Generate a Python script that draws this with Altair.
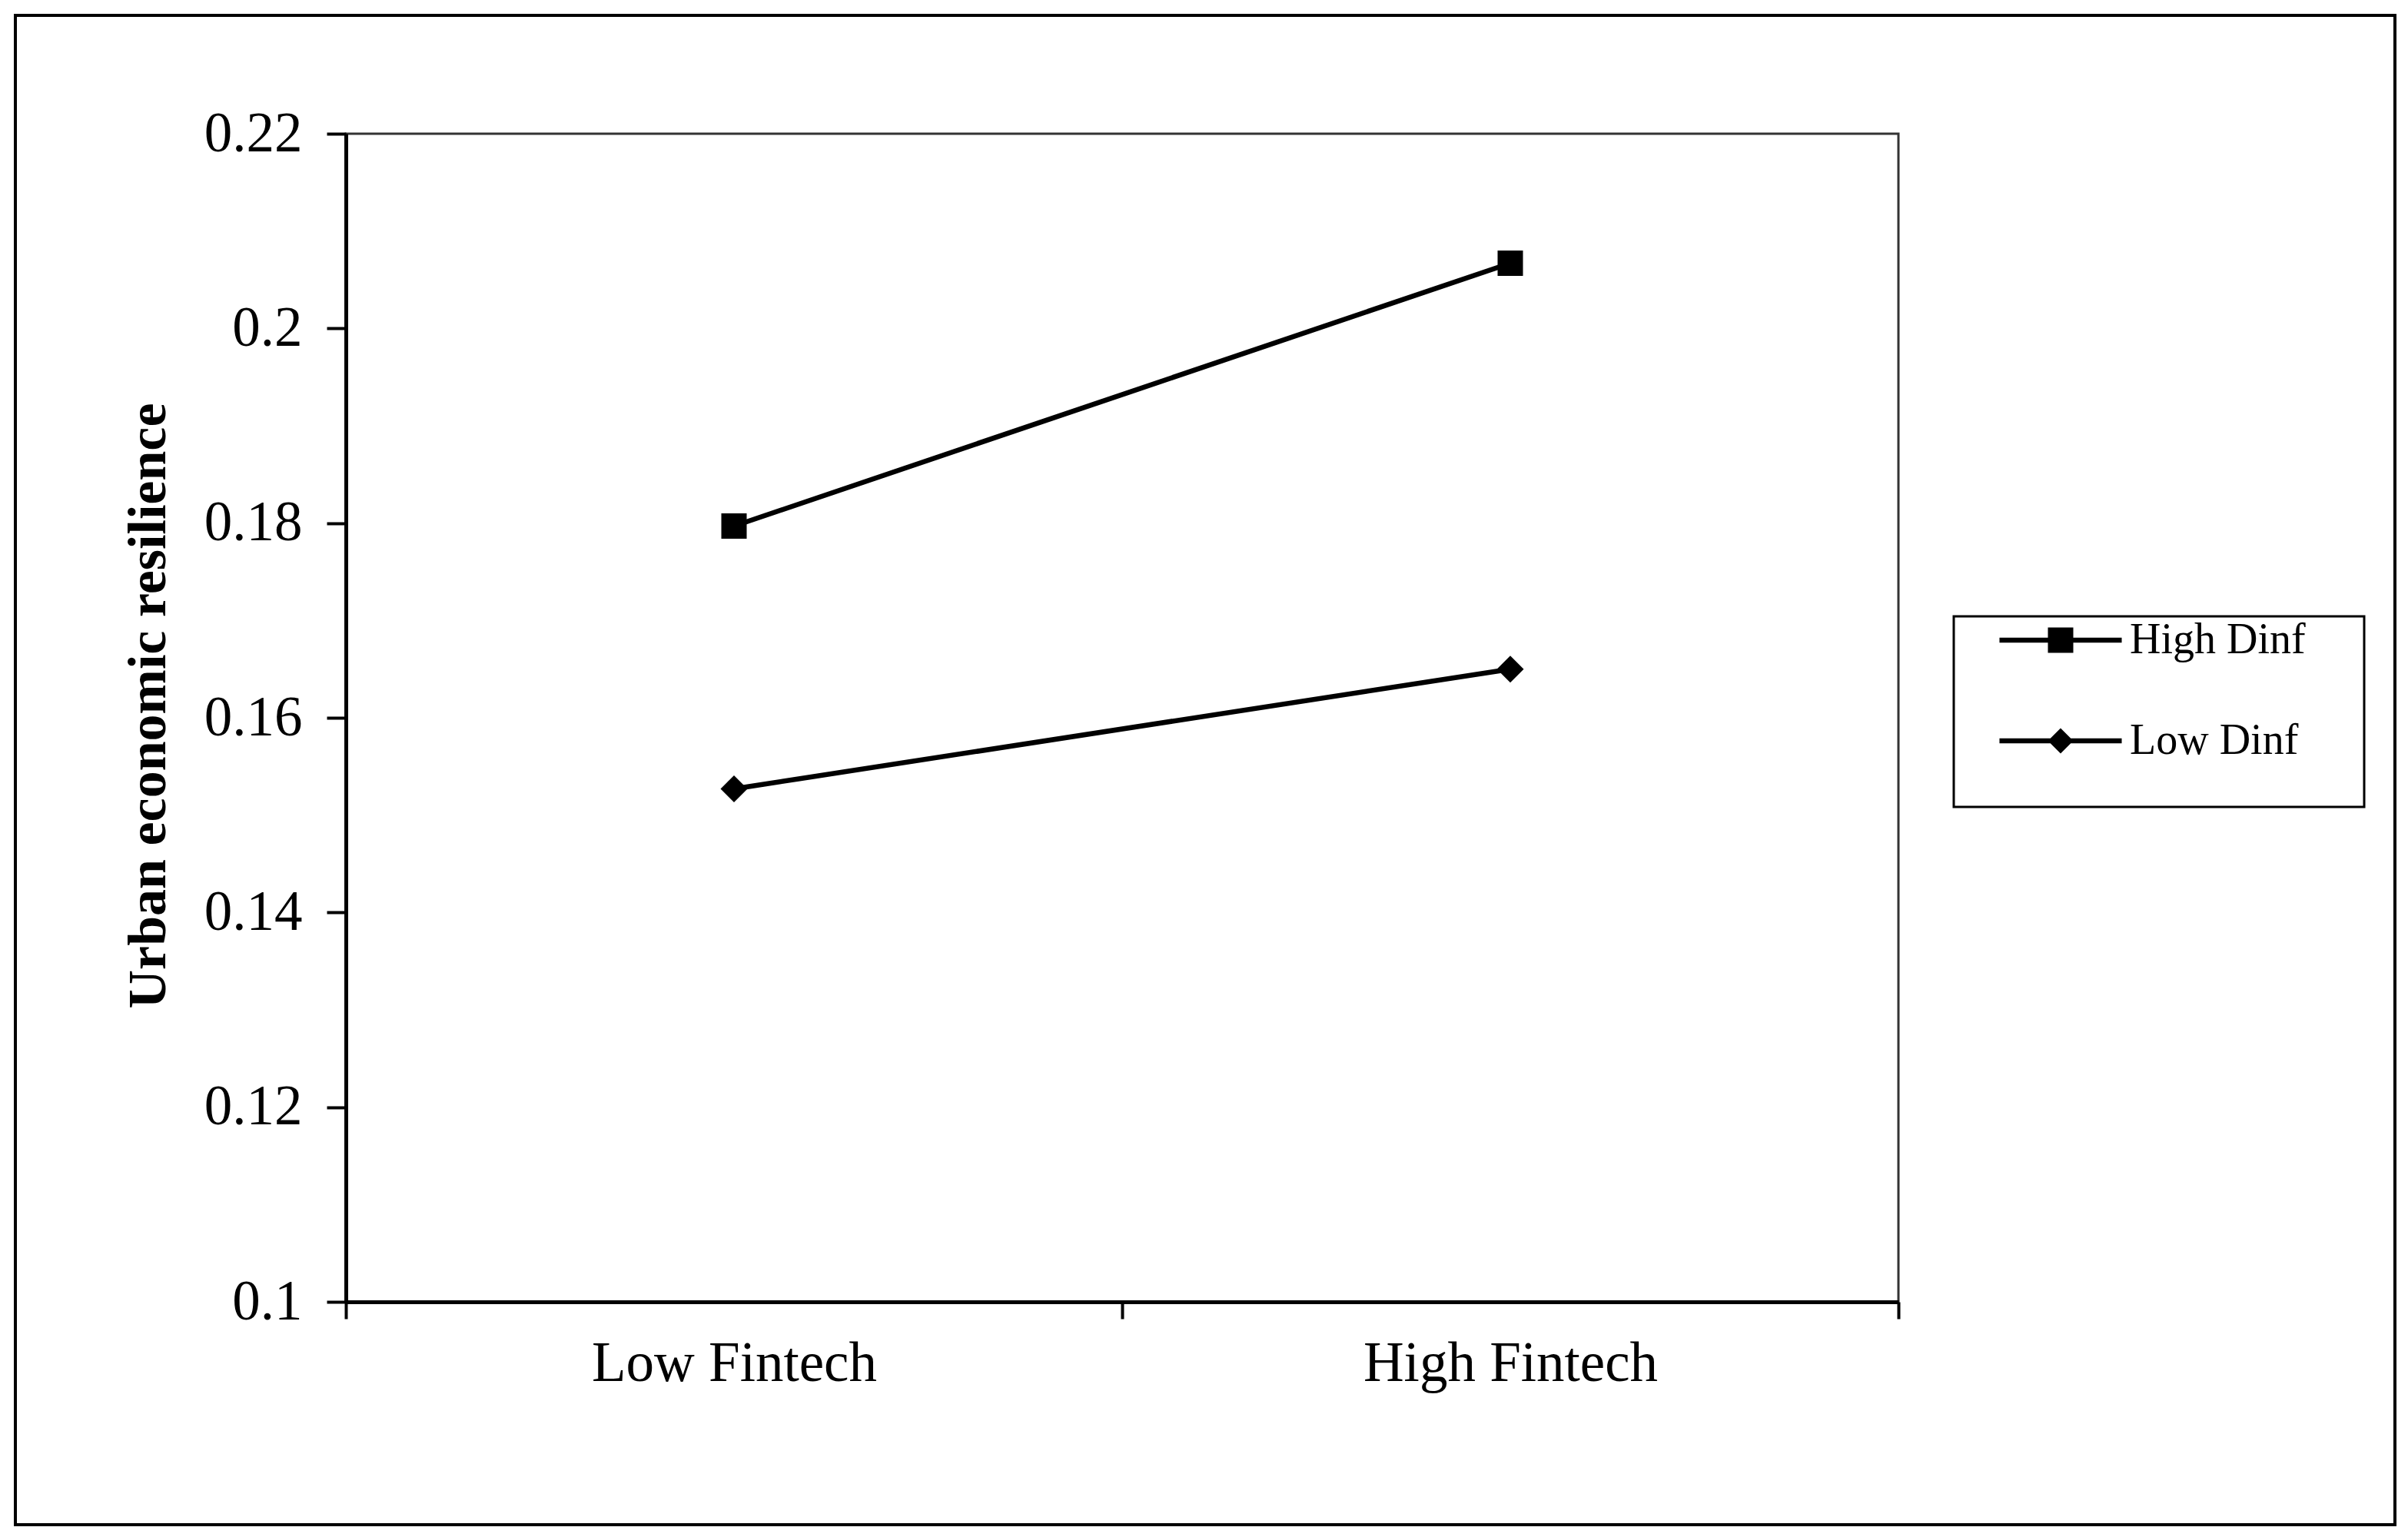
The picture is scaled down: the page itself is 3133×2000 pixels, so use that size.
import altair as alt
import pandas as pd

# ---- data ----
categories = ["Low Fintech", "High Fintech"]
series = ["High Dinf", "Low Dinf"]
high_dinf = [0.1797, 0.2067]
low_dinf = [0.1527, 0.1650]
y_ticks = [0.1, 0.12, 0.14, 0.16, 0.18, 0.2, 0.22]

rows = []
for s, vals in zip(series, [high_dinf, low_dinf]):
    for c, v in zip(categories, vals):
        rows.append({"fintech": c, "dinf": s, "value": v})
df = pd.DataFrame(rows)

FONT = "Liberation Serif"
W, H = 2020, 1520

x_enc = alt.X(
    "fintech:N",
    sort=categories,
    scale=alt.Scale(type="band", domain=categories, paddingInner=0, paddingOuter=0),
    axis=alt.Axis(
        title=None,
        tickBand="extent",
        labelAngle=0,
        labelFont=FONT,
        labelFontSize=73,
        labelColor="black",
        labelPadding=22,
        labelLimit=1200,
        tickSize=22,
        tickWidth=4,
        tickColor="black",
        domainColor="black",
        domainWidth=5,
        grid=False,
    ),
)
y_scale = alt.Scale(domain=[0.1, 0.22], nice=False, zero=False)
y_enc = alt.Y(
    "value:Q",
    scale=y_scale,
    axis=alt.Axis(
        title="Urban economic resilience",
        titleFont=FONT,
        titleFontSize=70,
        titleFontWeight="bold",
        titleColor="black",
        titlePadding=36,
        titleLimit=2000,
        titleY=744,
        values=y_ticks,
        format=".2~f",
        labelFont=FONT,
        labelFontSize=73,
        labelColor="black",
        labelPadding=32,
        labelLimit=600,
        tickSize=25,
        tickWidth=4,
        tickColor="black",
        domainColor="black",
        domainWidth=5,
        grid=False,
    ),
)

base = alt.Chart(df)

lines = base.mark_line(color="black", strokeWidth=6.5).encode(
    x=x_enc, y=y_enc, detail="dinf:N"
)
pts_high = base.transform_filter(alt.datum.dinf == series[0]).mark_point(
    shape="square", filled=True, color="black", size=1089, opacity=1
).encode(x=x_enc, y=y_enc)
pts_low = base.transform_filter(alt.datum.dinf == series[1]).mark_point(
    shape="diamond", filled=True, color="black", size=1225, opacity=1
).encode(x=x_enc, y=y_enc)

# legend symbols: line through a marker (custom paths, unit = marker half-size)
line_part = "M-4.82,-0.19L4.82,-0.19L4.82,0.19L-4.82,0.19Z"
sq_path = line_part + "M-1,-1L1,-1L1,1L-1,1Z"
dia_path = line_part + "M-1,0L0,-1L1,0L0,1Z"

legend_layer = base.mark_point(filled=True, color="black", clip=True, opacity=1).encode(
    x=x_enc,
    y=alt.datum(0.0),
    shape=alt.Shape(
        "dinf:N",
        scale=alt.Scale(domain=series, range=[sq_path, dia_path]),
        legend=alt.Legend(
            title=None,
            orient="none",
            legendX=2203,
            legendY=631,
            padding=0,
            symbolSize=1089,
            symbolFillColor="black",
            symbolStrokeWidth=0,
            symbolOpacity=1,
            labelFont=FONT,
            labelFontSize=56,
            labelColor="black",
            labelOffset=62,
            rowPadding=75,
            labelLimit=600,
        ),
    ),
)

frame_df = pd.DataFrame({"k": [0]})
outer_frame = alt.Chart(frame_df).mark_rect(
    filled=False, stroke="black", strokeWidth=4
).encode(
    x=alt.value(-430), x2=alt.value(2666), y=alt.value(-154), y2=alt.value(1810)
)
legend_frame = alt.Chart(frame_df).mark_rect(
    filled=False, stroke="black", strokeWidth=3
).encode(
    x=alt.value(2092), x2=alt.value(2626), y=alt.value(628), y2=alt.value(876)
)

chart = alt.layer(
    outer_frame, legend_frame, lines, pts_high, pts_low, legend_layer
).properties(
    width=W,
    height=H,
    padding={"left": 442, "top": 166, "right": 655, "bottom": 298},
    autosize=alt.AutoSizeParams(type="none"),
    background="white",
).configure_view(
    stroke="#333333", strokeWidth=3
)

chart.save("out.html", embed_options={"renderer": "svg", "actions": False})
